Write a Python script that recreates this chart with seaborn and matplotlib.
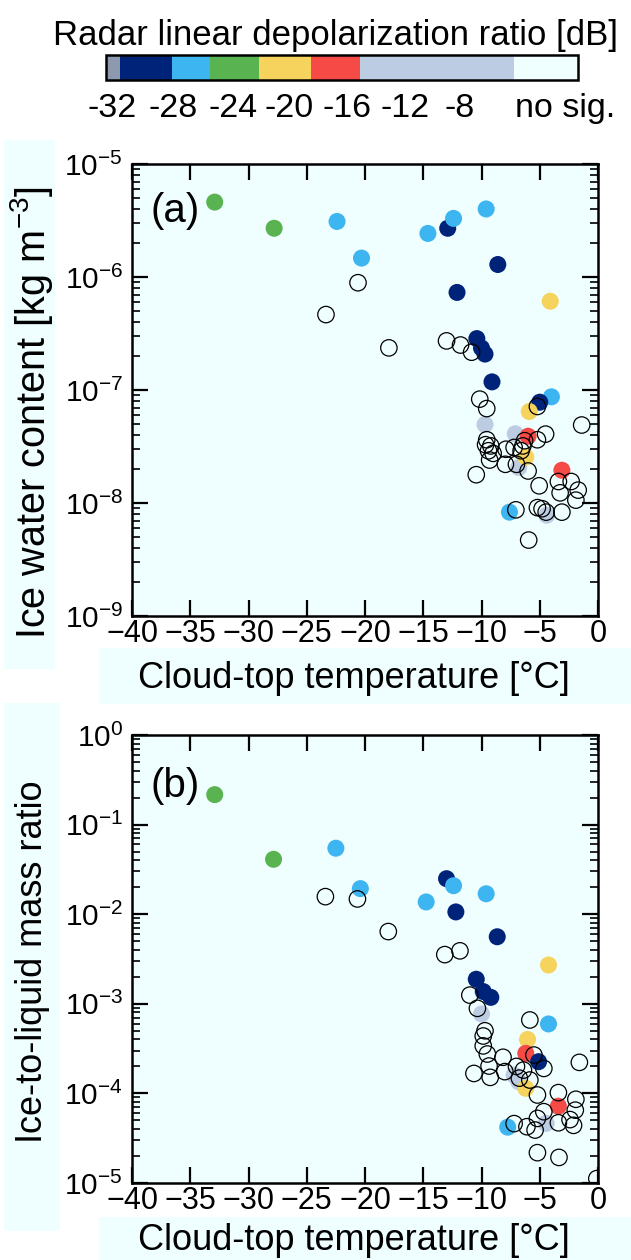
import numpy as np
import pandas as pd
import matplotlib
matplotlib.use("Agg")
import matplotlib.pyplot as plt
import matplotlib.ticker as mticker
import matplotlib.transforms as mtrans
from matplotlib.colors import ListedColormap, BoundaryNorm
from matplotlib.patches import Rectangle
import seaborn as sns

# ---------------- data ----------------
# colour classes of radar linear depolarization ratio
ldr_classes = ["gray", "navy", "lblue", "green", "yellow", "red", "lsteel", "nosig"]
ldr_colors = ["#8d99ad", "#00237a", "#3db5f0", "#59b350", "#f5d35c", "#f54a46", "#bccde3", "#effefe"]
cb_bounds = [-34, -32.9, -29.0, -26.1, -22.3, -18.4, -14.6, -2.9, 2.0]
cb_ticks = [-32, -28, -24, -20, -16, -12, -8, -4, 0]
cb_labels = ["-32", "-28", "-24", "-20", "-16", "-12", "-8", "no sig."]
cb_label_pos = [-33.5, -28.9, -24.3, -20.0, -15.6, -11.2, -7.0, 1.0]

# panel (a): ice water content
T_a_fill = [-32.9, -27.8, -22.4, -20.3, -14.6, -12.9, -12.4, -9.6, -8.6, -12.1,
            -10.4, -10.0, -9.7, -9.1, -4.1, -4.0, -5.0, -5.9, -9.7, -7.1,
            -6.0, -6.8, -6.2, -3.1, -7.6, -4.4]
IWC_a_fill = [4.6e-6, 2.7e-6, 3.1e-6, 1.47e-6, 2.43e-6, 2.7e-6, 3.3e-6, 4.0e-6, 1.29e-6, 7.3e-7,
              2.85e-7, 2.35e-7, 2.08e-7, 1.18e-7, 6.1e-7, 8.7e-8, 7.8e-8, 6.45e-8, 4.95e-8, 4.1e-8,
              3.9e-8, 2.06e-8, 2.55e-8, 1.95e-8, 8.3e-9, 7.8e-9]
LDR_a_fill = ["green", "green", "lblue", "lblue", "lblue", "navy", "lblue", "lblue", "navy", "navy",
              "navy", "navy", "navy", "navy", "yellow", "lblue", "navy", "yellow", "lsteel", "lsteel",
              "red", "lsteel", "yellow", "red", "lblue", "lsteel"]

T_a_open = [-20.6, -23.35, -17.95, -13.0, -11.8, -10.85, -10.15, -9.55, -1.4, -4.5,
            -5.2, -5.2, -9.55, -9.65, -9.2, -9.4, -9.0, -9.3, -10.45, -7.9,
            -7.95, -7.2, -7.0, -6.6, -6.45, -6.3, -6.0, -5.05, -3.4, -3.25,
            -2.3, -1.7, -1.9, -7.05, -5.2, -4.8, -4.45, -3.1, -5.95]
IWC_a_open = [8.9e-7, 4.65e-7, 2.36e-7, 2.72e-7, 2.5e-7, 2.16e-7, 8.3e-8, 6.85e-8, 4.9e-8, 4.07e-8,
              3.63e-8, 7.15e-8, 3.63e-8, 3.28e-8, 3.2e-8, 2.9e-8, 2.75e-8, 2.4e-8, 1.78e-8, 2.99e-8,
              2.2e-8, 3.1e-8, 2.2e-8, 2.9e-8, 3.2e-8, 3.56e-8, 1.92e-8, 1.42e-8, 1.55e-8, 1.23e-8,
              1.55e-8, 1.3e-8, 1.06e-8, 8.7e-9, 9.1e-9, 8.9e-9, 8.3e-9, 8.3e-9, 4.7e-9]

# panel (b): ice-to-liquid mass ratio
T_b_fill = [-32.9, -27.85, -22.5, -20.4, -14.75, -13.0, -12.4, -12.2, -9.6, -8.65,
            -4.25, -10.45, -9.85, -9.2, -10.0, -4.25, -6.05, -6.2, -5.1, -7.2,
            -6.8, -6.2, -3.4, -7.75, -4.45]
R_b_fill = [0.216, 0.041, 0.0545, 0.0193, 0.0137, 0.0249, 0.0208, 0.0106, 0.0169, 0.0056,
            2.71e-3, 1.88e-3, 1.37e-3, 1.18e-3, 7.7e-4, 5.96e-4, 4.0e-4, 2.8e-4, 2.26e-4, 1.6e-4,
            1.35e-4, 1.14e-4, 7.2e-5, 4.2e-5, 4.63e-5]
LDR_b_fill = ["green", "green", "lblue", "lblue", "lblue", "navy", "lblue", "navy", "lblue", "navy",
              "yellow", "navy", "navy", "navy", "lsteel", "lblue", "yellow", "red", "navy", "lsteel",
              "lsteel", "yellow", "red", "lblue", "lsteel"]

T_b_open = [-23.4, -20.65, -18.0, -13.15, -11.85, -11.0, -10.35, -5.85, -9.7, -9.85,
            -9.85, -9.5, -5.5, -4.65, -1.6, -8.15, -9.35, -10.65, -9.25, -8.0,
            -7.0, -6.4, -6.75, -5.85, -5.2, -3.4, -1.9, -1.95, -4.65, -5.2,
            -3.4, -2.4, -2.1, -7.2, -6.1, -5.4, -5.2, -3.35, -0.1]
R_b_open = [0.0157, 0.0148, 0.0064, 3.54e-3, 3.9e-3, 1.25e-3, 8.9e-4, 6.6e-4, 5.0e-4, 4.37e-4,
            3.39e-4, 2.75e-4, 2.68e-4, 1.9e-4, 2.22e-4, 2.53e-4, 2.02e-4, 1.67e-4, 1.51e-4, 1.75e-4,
            2.0e-4, 1.82e-4, 1.48e-4, 1.41e-4, 9.6e-5, 1.02e-4, 8.6e-5, 6.5e-5, 6.25e-5, 5.26e-5,
            4.7e-5, 5.1e-5, 4.4e-5, 4.6e-5, 4.25e-5, 3.9e-5, 2.18e-5, 1.93e-5, 1.12e-5]

x_ticks = [-40, -35, -30, -25, -20, -15, -10, -5, 0]

# ---------------- style ----------------
sns.set_style("ticks", {"axes.edgecolor": "black", "xtick.color": "black", "ytick.color": "black",
                        "xtick.direction": "in", "ytick.direction": "in",
                        "text.color": "black", "axes.labelcolor": "black"})
plt.rcParams["font.family"] = ["Liberation Sans", "DejaVu Sans"]
plt.rcParams["mathtext.fontset"] = "custom"
plt.rcParams["mathtext.rm"] = "Liberation Sans"
plt.rcParams["mathtext.it"] = "Liberation Sans:italic"
plt.rcParams["mathtext.bf"] = "Liberation Sans:bold"
plt.rcParams["text.color"] = "black"
plt.rcParams["axes.labelcolor"] = "black"

BG = "#effefe"
W, H = 631, 1260
fig = plt.figure(figsize=(W / 100, H / 100), dpi=100)
fig.patch.set_facecolor("white")


def fbox(x0, y0, x1, y1):
    return [x0 / W, 1 - y1 / H, (x1 - x0) / W, (y1 - y0) / H]


# label background boxes
for (x0, y0, x1, y1) in [(4, 140, 55, 669), (99, 648, 631, 704), (4, 703, 60, 1231), (99, 1217, 631, 1273)]:
    b = fbox(x0, y0, x1, y1)
    fig.patches.append(Rectangle((b[0], b[1]), b[2], b[3], transform=fig.transFigure,
                                 facecolor=BG, edgecolor="none", zorder=-5))

# ---------------- colorbar ----------------
cax = fig.add_axes(fbox(106, 55, 578, 80))
cmap = ListedColormap(ldr_colors)
norm = BoundaryNorm(cb_bounds, cmap.N)
cb = fig.colorbar(plt.cm.ScalarMappable(norm=norm, cmap=cmap), cax=cax,
                  orientation="horizontal", spacing="proportional")
cb.set_ticks(cb_ticks)
cax.tick_params(axis="x", which="both", direction="in", length=11, width=1.6,
                bottom=True, top=False, labelbottom=False, color="black")
cax.minorticks_off()
cb.outline.set_linewidth(1.8)
cb.outline.set_edgecolor("black")
trans = mtrans.blended_transform_factory(cax.transData, cax.transAxes)
for lab, pos in zip(cb_labels, cb_label_pos):
    cax.text(pos, -1.48, lab, transform=trans, ha="center", va="baseline", fontsize=24.5,
             color="black")
fig.text(53 / W, 1 - 45 / H, "Radar linear depolarization ratio [dB]", fontsize=25,
         ha="left", va="baseline", color="black")

pal = dict(zip(ldr_classes, ldr_colors))


def panel(ax, T_fill, v_fill, c_fill, T_open, v_open, ylim, ylabel, ylab_size, letter,
          ylab_x, ylab_y, xlab_y, let_y):
    ax.set_facecolor(BG)
    df = pd.DataFrame({"T": T_fill, "v": v_fill, "ldr": c_fill})
    sns.scatterplot(data=df, x="T", y="v", hue="ldr", palette=pal, s=150, edgecolor="none",
                    linewidth=0, legend=False, ax=ax, zorder=2)
    dfo = pd.DataFrame({"T": T_open, "v": v_open})
    sns.scatterplot(data=dfo, x="T", y="v", s=140, facecolor="none", edgecolor="black",
                    linewidth=0.9, ax=ax, zorder=3)
    ax.set_yscale("log")
    ax.set_xlim(-40, 0)
    ax.set_ylim(*ylim)
    ax.set_xticks(x_ticks)
    ax.xaxis.set_minor_locator(mticker.NullLocator())
    ax.yaxis.set_major_locator(mticker.LogLocator(base=10, numticks=20))
    ax.yaxis.set_minor_locator(mticker.LogLocator(base=10, subs=np.arange(2, 10), numticks=20))
    ax.yaxis.set_minor_formatter(mticker.NullFormatter())
    ax.tick_params(which="both", direction="in", top=True, right=True, color="black",
                   labelcolor="black")
    ax.tick_params(which="major", length=11.5, width=1.6)
    ax.tick_params(which="minor", length=5.5, width=1.2)
    ax.tick_params(axis="x", labelsize=22, pad=2)
    ax.tick_params(axis="y", labelsize=21.5, pad=6.5)
    for sp in ax.spines.values():
        sp.set_linewidth(1.8)
        sp.set_color("black")
    ax.set_xlabel("Cloud-top temperature [°C]", fontsize=26, va="baseline", ha="center")
    ax.xaxis.set_label_coords(0.476, xlab_y)
    ax.set_ylabel(ylabel, fontsize=ylab_size, va="baseline", ha="center")
    ax.yaxis.set_label_coords(ylab_x, ylab_y)
    ax.text(0.04, let_y, letter, transform=ax.transAxes, fontsize=29, va="baseline", ha="left")


ax_a = fig.add_axes(fbox(132, 164, 598, 616))
panel(ax_a, T_a_fill, IWC_a_fill, LDR_a_fill, T_a_open, IWC_a_open, (1e-9, 1e-5),
      "Ice water content [kg m$^{\\mathdefault{-3}}$]", 28.5, "(a)", -0.186, 0.45, -0.159, 0.872)

ax_b = fig.add_axes(fbox(132, 735, 598, 1183))
panel(ax_b, T_b_fill, R_b_fill, LDR_b_fill, T_b_open, R_b_open, (1e-5, 1e0),
      "Ice-to-liquid mass ratio", 26, "(b)", -0.193, 0.493, -0.1496, 0.862)

fig.savefig("out.png", dpi=100, facecolor="white")
